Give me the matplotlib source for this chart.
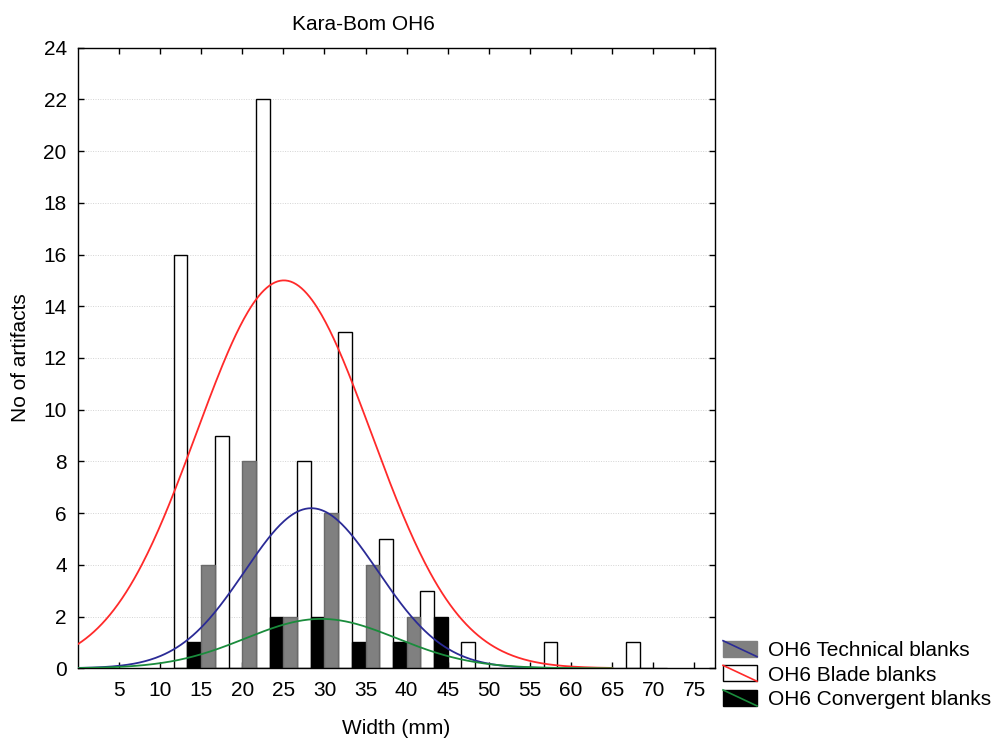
import numpy as np
import matplotlib
matplotlib.use("Agg")
import matplotlib.pyplot as plt
from matplotlib.patches import Patch, Rectangle
from matplotlib.lines import Line2D
from matplotlib.legend_handler import HandlerBase

plt.rcParams['font.family'] = ['Liberation Sans', 'DejaVu Sans']

# histogram bins (label of each group) and counts per series
bins = [15, 20, 25, 30, 35, 40, 45, 50, 55, 60, 65, 70]
blade = [16, 9, 22, 8, 13, 5, 3, 1, 0, 1, 0, 1]
technical = [4, 8, 2, 6, 4, 2, 0, 0, 0, 0, 0, 0]
convergent = [1, 0, 2, 2, 1, 1, 2, 0, 0, 0, 0, 0]

# fitted normal curves: (mean, sd, peak height)
fit_technical = (28.4, 8.1, 6.19)
fit_blade = (25.06, 10.63, 15.0)
fit_convergent = (29.6, 9.2, 1.91)

xticks = [5, 10, 15, 20, 25, 30, 35, 40, 45, 50, 55, 60, 65, 70, 75]
yticks = [0, 2, 4, 6, 8, 10, 12, 14, 16, 18, 20, 22, 24]

c_tech = '#2b2b96'
c_blade = '#ff2a2a'
c_conv = '#1a8c3c'


class BoxWithLine(HandlerBase):
    def __init__(self, line_color):
        super().__init__()
        self.line_color = line_color

    def create_artists(self, legend, orig_handle, xdescent, ydescent,
                       width, height, fontsize, trans):
        rect = Rectangle((-xdescent, -ydescent), width, height,
                         facecolor=orig_handle.get_facecolor(),
                         edgecolor=orig_handle.get_edgecolor(),
                         lw=1.0, transform=trans)
        line = Line2D([-xdescent, -xdescent + width],
                      [-ydescent + height, -ydescent],
                      color=self.line_color, lw=1.2, transform=trans)
        return [rect, line]


def normal_curve(x, fit):
    mu, sd, peak = fit
    return peak * np.exp(-(x - mu) ** 2 / (2 * sd ** 2))


fig = plt.figure(figsize=(9.94, 7.39), dpi=100)
ax = fig.add_axes([0.0783, 0.0957, 0.6410, 0.8398])

b = np.array(bins, dtype=float)
w = 5 / 3
ax.bar(b - 2.5, blade, width=w, color='white', edgecolor='black', lw=1.0, zorder=2)
ax.bar(b - 5 / 6, convergent, width=w, color='black', edgecolor='black', lw=1.0, zorder=2)
ax.bar(b + 5 / 6, technical, width=w, color='#808080', edgecolor='#6a6a6a', lw=1.0, zorder=2)

xs = np.linspace(0, 65, 400)
ax.plot(xs, normal_curve(xs, fit_technical), color=c_tech, lw=1.3, zorder=3)
ax.plot(xs, normal_curve(xs, fit_blade), color=c_blade, lw=1.3, zorder=3)
ax.plot(xs, normal_curve(xs, fit_convergent), color=c_conv, lw=1.3, zorder=3)

ax.set_xlim(0, 77.5)
ax.set_ylim(0, 24)
ax.set_xticks(xticks)
ax.set_yticks(yticks)
ax.tick_params(direction='in', length=4, width=1, top=True, right=True,
               labelsize=15)
ax.tick_params(axis='x', pad=9)
ax.tick_params(axis='y', pad=8)
ax.yaxis.grid(True, linestyle=(0, (1, 1.5)), color='#d4d4d4', lw=0.7, zorder=0)
ax.set_axisbelow(True)
for s in ax.spines.values():
    s.set_linewidth(1.0)

ax.set_xlabel('Width (mm)', fontsize=15)
ax.xaxis.set_label_coords(0.5, -0.1059)
ax.xaxis.label.set_va('baseline')
ax.set_ylabel('No of artifacts', fontsize=15)
ax.yaxis.set_label_coords(-0.0907, 0.5)
ax.yaxis.label.set_va('center')

fig.text(0.3657, 0.9594, 'Kara-Bom OH6', fontsize=15, ha='center', va='baseline')

h_tech = Patch(facecolor='#808080', edgecolor='#808080')
h_blade = Patch(facecolor='white', edgecolor='black')
h_conv = Patch(facecolor='black', edgecolor='black')
fig.legend([h_tech, h_blade, h_conv],
           ['OH6 Technical blanks', 'OH6 Blade blanks', 'OH6 Convergent blanks'],
           handler_map={h_tech: BoxWithLine(c_tech),
                        h_blade: BoxWithLine(c_blade),
                        h_conv: BoxWithLine(c_conv)},
           loc='upper left', bbox_to_anchor=(0.7274, 0.133),
           frameon=False, fontsize=15, borderpad=0, borderaxespad=0,
           handlelength=1.63, handleheight=0.8, handletextpad=0.53,
           labelspacing=0.26)

fig.savefig('out.png', dpi=100)
